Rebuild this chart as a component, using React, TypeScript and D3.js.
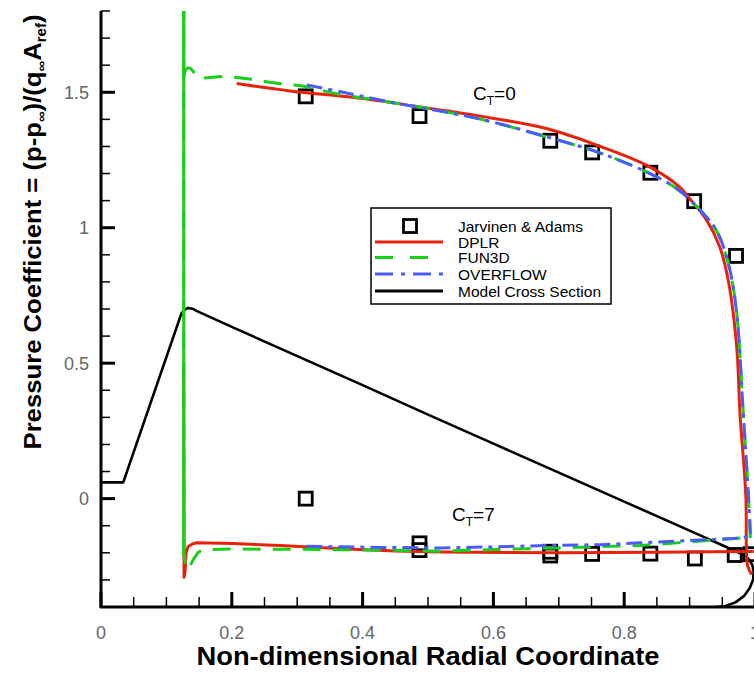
import React from "react";
import * as d3 from "d3";

// ---------- data ----------
const xMajorTicks = [0, 0.2, 0.4, 0.6, 0.8, 1];
const xTickLabels = ["0", "0.2", "0.4", "0.6", "0.8", "1"];
const yMajorTicks = [0, 0.5, 1, 1.5];
const yTickLabels = ["0", "0.5", "1", "1.5"];

// Jarvinen & Adams experiment
const expCt0: [number, number][] = [
  [0.313, 1.485], [0.487, 1.412], [0.687, 1.321], [0.751, 1.278],
  [0.84, 1.203], [0.907, 1.098], [0.971, 0.896],
];
const expCt7: [number, number][] = [
  [0.313, 0.0], [0.487, -0.165], [0.487, -0.19], [0.687, -0.196], [0.687, -0.21],
  [0.751, -0.204], [0.84, -0.203], [0.908, -0.221], [0.969, -0.208], [0.993, -0.205],
];

// DPLR
const dplrCt0: [number, number][] = [
  [0.2075, 1.532], [0.289, 1.505], [0.401, 1.477], [0.478, 1.449], [0.58, 1.412],
  [0.681, 1.366], [0.758, 1.305], [0.834, 1.231], [0.885, 1.15], [0.9, 1.108],
  [0.926, 1.028], [0.946, 0.93], [0.959, 0.807], [0.972, 0.561], [0.977, 0.316],
  [0.986, 0.008], [0.987, -0.2], [0.989, -0.25], [0.995, -0.28],
];
const dplrCt7: [number, number][] = [
  [0.1265, 0.5], [0.127, -0.29], [0.1285, -0.27], [0.13, -0.2], [0.133, -0.178],
  [0.139, -0.168], [0.146, -0.163], [0.202, -0.166], [0.274, -0.173], [0.376, -0.186],
  [0.45, -0.193], [0.52, -0.197], [0.7, -0.2], [0.85, -0.198], [0.98, -0.195], [0.998, -0.195],
];

// FUN3D
const fun3dCt0: [number, number][] = [
  [0.1265, 2.5], [0.1265, 1.56], [0.128, 1.575], [0.133, 1.59], [0.138, 1.585],
  [0.143, 1.57], [0.148, 1.555], [0.19, 1.558], [0.23, 1.548], [0.25, 1.54],
  [0.281, 1.53], [0.31, 1.522], [0.36, 1.495], [0.44, 1.464], [0.5, 1.44],
  [0.58, 1.401], [0.68, 1.336], [0.758, 1.28], [0.834, 1.206], [0.88, 1.145],
  [0.91, 1.08], [0.941, 0.99], [0.96, 0.86], [0.972, 0.686], [0.982, 0.316],
  [0.99, 0.008], [0.993, -0.15],
];
const fun3dCt7: [number, number][] = [
  [0.1265, 2.5], [0.1265, -0.2], [0.129, -0.24], [0.133, -0.252], [0.136, -0.249],
  [0.141, -0.225], [0.148, -0.2], [0.156, -0.188], [0.2, -0.186], [0.3, -0.187],
  [0.427, -0.19], [0.52, -0.194], [0.6, -0.188], [0.7, -0.182], [0.824, -0.173],
  [0.9, -0.16], [0.98, -0.145], [0.993, -0.135],
];

// OVERFLOW
const overflowCt0: [number, number][] = [
  [0.3145, 1.527], [0.37, 1.5], [0.442, 1.464], [0.58, 1.401], [0.681, 1.336],
  [0.758, 1.28], [0.834, 1.206], [0.88, 1.145], [0.91, 1.08], [0.941, 0.99],
  [0.96, 0.86], [0.972, 0.686], [0.982, 0.316], [0.99, 0.008], [0.993, -0.13],
];
const overflowCt7: [number, number][] = [
  [0.314, -0.176], [0.427, -0.18], [0.52, -0.182], [0.6, -0.178], [0.7, -0.172],
  [0.763, -0.17], [0.824, -0.163], [0.9, -0.155], [0.982, -0.145], [0.993, -0.133],
];

// Model cross section
const modelSection: [number, number][] = [
  [0, 0.06], [0.034, 0.06], [0.123, 0.684], [0.128, 0.697], [0.133, 0.704],
  [0.14, 0.701], [0.146, 0.693], [0.2, 0.634], [0.289, 0.538], [0.4, 0.419],
  [0.5, 0.31], [0.6, 0.203], [0.7, 0.096], [0.8, -0.011], [0.9, -0.118],
  [0.95, -0.172], [0.985, -0.21], [0.991, -0.225], [0.996, -0.245], [0.998, -0.27],
  [0.997, -0.3], [0.992, -0.33], [0.983, -0.36], [0.97, -0.383], [0.955, -0.396],
  [0.935, -0.402],
];

const legendItems = ["Jarvinen & Adams", "DPLR", "FUN3D", "OVERFLOW", "Model Cross Section"];

// ---------- styling ----------
const RED = "#e8220a";
const GREEN = "#18d018";
const BLUE = "#4a5cff";
const FONT = "'Liberation Sans', Arial, Helvetica, sans-serif";

export default function App() {
  const W = 754, H = 677;
  const x = d3.scaleLinear().domain([0, 1]).range([101, 755]);
  const y = d3.scaleLinear().domain([-0.4, 1.8]).range([607, 11]);
  const line = d3.line<[number, number]>().x(d => x(d[0])).y(d => y(d[1]));
  const smooth = d3.line<[number, number]>().x(d => x(d[0])).y(d => y(d[1]))
    .curve(d3.curveCatmullRom.alpha(0.5));

  const yMinor = d3.range(-4, 19).map(i => i / 10);
  const xMinor = d3.range(0, 21).map(i => i / 20);

  const fun3dSpike0 = fun3dCt0.filter(d => d[0] <= 0.1266);
  const fun3dSpike7 = fun3dCt7.filter(d => d[0] <= 0.1266);

  const legendRows = [226, 242, 257.5, 274, 291];

  return (
    <svg width={W} height={H} style={{ position: "absolute", left: 0, top: 0, background: "#fff" }}
      fontFamily={FONT}>
      <defs>
        <clipPath id="plot">
          <rect x={101} y={11} width={660} height={596} />
        </clipPath>
      </defs>
      <rect width={W} height={H} fill="#fff" />

      {/* experimental squares */}
      {[...expCt0, ...expCt7].map((d, i) => (
        <rect key={"e" + i} x={x(d[0]) - 6.5} y={y(d[1]) - 6.5} width={13} height={13}
          fill="none" stroke="#000" strokeWidth={2.8} />
      ))}

      <g clipPath="url(#plot)" fill="none" strokeLinejoin="round">
        <path d={line(modelSection) || ""} stroke="#000" strokeWidth={2.6} />
        <path d={smooth(dplrCt0) || ""} stroke={RED} strokeWidth={3} />
        <path d={line(dplrCt7) || ""} stroke={RED} strokeWidth={3} />
        <path d={smooth(fun3dCt0.slice(1)) || ""} stroke={GREEN} strokeWidth={3} strokeDasharray="18 12" />
        <path d={line(fun3dCt7) || ""} stroke={GREEN} strokeWidth={3} strokeDasharray="18 12" />
        <path d={line(fun3dSpike0.concat([fun3dCt0[fun3dSpike0.length]])) || ""} stroke={GREEN} strokeWidth={3} />
        <path d={line(fun3dSpike7.concat([fun3dCt7[fun3dSpike7.length]])) || ""} stroke={GREEN} strokeWidth={3} />
        <path d={smooth(overflowCt0) || ""} stroke={BLUE} strokeWidth={3} strokeDasharray="16 6 4 6" />
        <path d={line(overflowCt7) || ""} stroke={BLUE} strokeWidth={3} strokeDasharray="16 6 4 6" />
      </g>

      {/* axes */}
      <line x1={101} y1={11} x2={101} y2={608} stroke="#000" strokeWidth={3} />
      <line x1={100} y1={607} x2={756} y2={607} stroke="#000" strokeWidth={3} />
      {yMinor.map((v, i) => (
        <line key={"ym" + i} x1={101} x2={110} y1={y(v)} y2={y(v)} stroke="#000" strokeWidth={1.5} />
      ))}
      {yMajorTicks.map((v, i) => (
        <line key={"yM" + i} x1={101} x2={115} y1={y(v)} y2={y(v)} stroke="#000" strokeWidth={3} />
      ))}
      {xMinor.map((v, i) => (
        <line key={"xm" + i} x1={x(v)} x2={x(v)} y1={607} y2={597} stroke="#000" strokeWidth={1.5} />
      ))}
      {xMajorTicks.map((v, i) => (
        <line key={"xM" + i} x1={x(v)} x2={x(v)} y1={607} y2={592} stroke="#000" strokeWidth={3} />
      ))}

      {yMajorTicks.map((v, i) => (
        <text key={"yl" + i} x={89} y={y(v) + 6.5} textAnchor="end" fontSize={18} fill="#666">
          {yTickLabels[i]}
        </text>
      ))}
      {xMajorTicks.map((v, i) => (
        <text key={"xl" + i} x={x(v)} y={639} textAnchor="middle" fontSize={18} fill="#666">
          {xTickLabels[i]}
        </text>
      ))}

      {/* axis titles */}
      <text x={428} y={665} textAnchor="middle" fontSize={25} fontWeight="bold" fill="#000"
        textLength={463} lengthAdjust="spacingAndGlyphs">
        Non-dimensional Radial Coordinate
      </text>
      <text transform="translate(41,232) rotate(-90)" textAnchor="middle" fontSize={24}
        fontWeight="bold" fill="#000" textLength={435} lengthAdjust="spacingAndGlyphs">
        Pressure Coefficient = (p-p<tspan dy={5} fontSize={14}>∞</tspan>
        <tspan dy={-5}>)/(q</tspan><tspan dy={5} fontSize={14}>∞</tspan>
        <tspan dy={-5}>A</tspan><tspan dy={5} fontSize={14}>ref</tspan>
        <tspan dy={-5}>)</tspan>
      </text>

      {/* annotations */}
      <text x={473} y={100} fontSize={19} fill="#000">
        C<tspan dy={5} fontSize={12}>T</tspan><tspan dy={-5}>=0</tspan>
      </text>
      <text x={452} y={521} fontSize={19} fill="#000">
        C<tspan dy={5} fontSize={12}>T</tspan><tspan dy={-5}>=7</tspan>
      </text>

      {/* legend */}
      <rect x={371} y={208} width={240} height={96} fill="#fff" stroke="#000" strokeWidth={1.5} />
      <rect x={410 - 6.5} y={legendRows[0] - 6.5} width={13} height={13} fill="none" stroke="#000" strokeWidth={2.8} />
      <line x1={375} x2={443} y1={legendRows[1]} y2={legendRows[1]} stroke={RED} strokeWidth={3} />
      <line x1={375} x2={443} y1={legendRows[2]} y2={legendRows[2]} stroke={GREEN} strokeWidth={3} strokeDasharray="18 17" />
      <line x1={375} x2={443} y1={legendRows[3]} y2={legendRows[3]} stroke={BLUE} strokeWidth={3} strokeDasharray="18 8 4 8" />
      <line x1={375} x2={443} y1={legendRows[4]} y2={legendRows[4]} stroke="#000" strokeWidth={3} />
      {legendItems.map((t, i) => (
        <text key={"lg" + i} x={458} y={legendRows[i] + 5.5} fontSize={15.5} fill="#000">{t}</text>
      ))}
    </svg>
  );
}
